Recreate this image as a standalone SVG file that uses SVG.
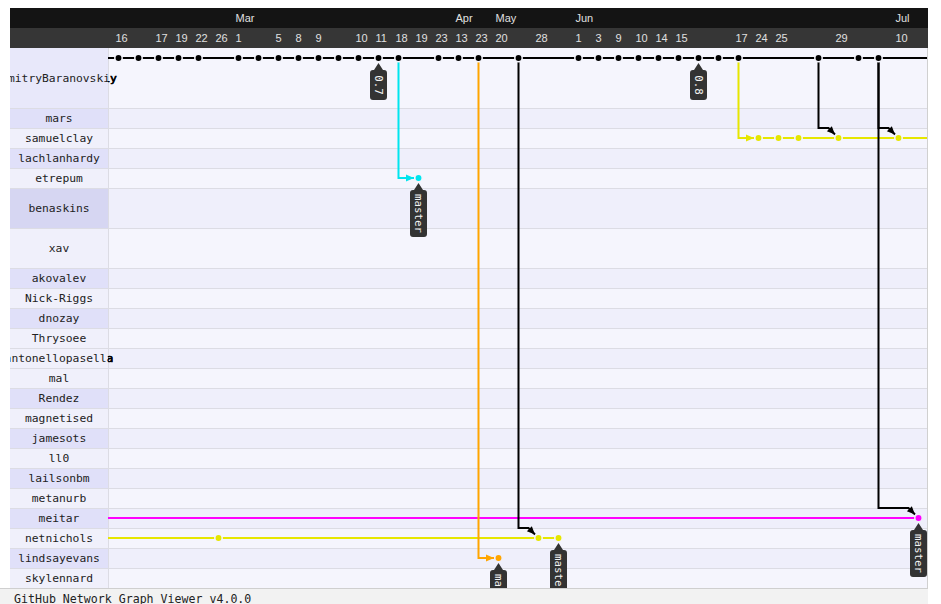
<svg xmlns="http://www.w3.org/2000/svg" width="941" height="604" viewBox="0 0 941 604">
<style>
.lbl{font-family:"DejaVu Sans Mono","Liberation Mono",monospace;font-size:11.3px;fill:#222;text-anchor:middle}
.hdr{font-family:"Liberation Sans","Noto Sans",sans-serif;font-size:11px;fill:#e0e0e0}
.tagt{font-family:"DejaVu Sans Mono","Liberation Mono",monospace;font-size:10.8px;fill:#f2f2f2;text-anchor:middle}
.bgL{fill:#f5f5fd}
.bgD{fill:#efeffb}
.cL{fill:#f0f0fb}
.cD{fill:#e0e0f9}
.sep{stroke:#dcdce4;stroke-width:1}
.ln{fill:none;stroke-width:2}
.tag{fill:#333}
</style>
<defs>
<clipPath id="lc"><rect x="10" y="0" width="918" height="604"/></clipPath>
<clipPath id="gc"><rect x="108" y="0" width="820" height="604"/></clipPath>
<clipPath id="ga"><rect x="108" y="48" width="819" height="540"/></clipPath>
<marker id="aK" markerUnits="userSpaceOnUse" markerWidth="10" markerHeight="10" viewBox="-9 -4 10 8" refX="0" refY="0" orient="auto"><path d="M-8,-3.5 L0,0 L-8,3.5 z" fill="#000"/></marker>
<marker id="aC" markerUnits="userSpaceOnUse" markerWidth="10" markerHeight="10" viewBox="-9 -4 10 8" refX="0" refY="0" orient="auto"><path d="M-8,-3.5 L0,0 L-8,3.5 z" fill="#00e5ee"/></marker>
<marker id="aY" markerUnits="userSpaceOnUse" markerWidth="10" markerHeight="10" viewBox="-9 -4 10 8" refX="0" refY="0" orient="auto"><path d="M-8,-3.5 L0,0 L-8,3.5 z" fill="#e6e600"/></marker>
<marker id="aO" markerUnits="userSpaceOnUse" markerWidth="10" markerHeight="10" viewBox="-9 -4 10 8" refX="0" refY="0" orient="auto"><path d="M-8,-3.5 L0,0 L-8,3.5 z" fill="#ffa500"/></marker>
</defs>
<rect width="941" height="604" fill="#fff"/>

<g id="header">
<rect x="10" y="8" width="918" height="20" fill="#141414"/>
<rect x="10" y="28" width="918" height="20" fill="#363636"/>
<g class="hdr">
<text x="235.5" y="22">Mar</text><text x="455.5" y="22">Apr</text><text x="495.5" y="22">May</text><text x="575.5" y="22">Jun</text><text x="895.5" y="22">Jul</text>
<text x="115.5" y="42">16</text><text x="155.5" y="42">17</text><text x="175.5" y="42">19</text><text x="195.5" y="42">22</text><text x="215.5" y="42">26</text><text x="235.5" y="42">1</text><text x="275.5" y="42">5</text><text x="295.5" y="42">8</text><text x="315.5" y="42">9</text><text x="355.5" y="42">10</text><text x="375.5" y="42">11</text><text x="395.5" y="42">18</text><text x="415.5" y="42">19</text><text x="435.5" y="42">23</text><text x="455.5" y="42">13</text><text x="475.5" y="42">23</text><text x="495.5" y="42">20</text><text x="535.5" y="42">28</text><text x="575.5" y="42">1</text><text x="595.5" y="42">3</text><text x="615.5" y="42">9</text><text x="635.5" y="42">10</text><text x="655.5" y="42">14</text><text x="675.5" y="42">15</text><text x="735.5" y="42">17</text><text x="755.5" y="42">24</text><text x="775.5" y="42">25</text><text x="835.5" y="42">29</text><text x="895.5" y="42">10</text>
</g>
</g>

<g id="rows">
<g id="row-DmitryBaranovskiy"><rect class="bgL" x="108" y="48" width="819" height="60"/><rect x="10" y="48" width="98" height="60" fill="#e8e8fa"/></g>
<g id="row-mars"><rect class="bgD" x="108" y="108" width="819" height="20"/><rect class="cD" x="10" y="108" width="98" height="20"/></g>
<g id="row-samuelclay"><rect class="bgL" x="108" y="128" width="819" height="20"/><rect class="cL" x="10" y="128" width="98" height="20"/></g>
<g id="row-lachlanhardy"><rect class="bgD" x="108" y="148" width="819" height="20"/><rect class="cD" x="10" y="148" width="98" height="20"/></g>
<g id="row-etrepum"><rect class="bgL" x="108" y="168" width="819" height="20"/><rect class="cL" x="10" y="168" width="98" height="20"/></g>
<g id="row-benaskins"><rect class="bgD" x="108" y="188" width="819" height="40"/><rect x="10" y="188" width="98" height="40" fill="#d6d6f2"/></g>
<g id="row-xav"><rect class="bgL" x="108" y="228" width="819" height="40"/><rect class="cL" x="10" y="228" width="98" height="40"/></g>
<g id="row-akovalev"><rect class="bgD" x="108" y="268" width="819" height="20"/><rect class="cD" x="10" y="268" width="98" height="20"/></g>
<g id="row-Nick-Riggs"><rect class="bgL" x="108" y="288" width="819" height="20"/><rect class="cL" x="10" y="288" width="98" height="20"/></g>
<g id="row-dnozay"><rect class="bgD" x="108" y="308" width="819" height="20"/><rect class="cD" x="10" y="308" width="98" height="20"/></g>
<g id="row-Thrysoee"><rect class="bgL" x="108" y="328" width="819" height="20"/><rect class="cL" x="10" y="328" width="98" height="20"/></g>
<g id="row-antonellopasella"><rect class="bgD" x="108" y="348" width="819" height="20"/><rect class="cL" x="10" y="348" width="98" height="20"/></g>
<g id="row-mal"><rect class="bgL" x="108" y="368" width="819" height="20"/><rect class="cL" x="10" y="368" width="98" height="20"/></g>
<g id="row-Rendez"><rect class="bgD" x="108" y="388" width="819" height="20"/><rect class="cD" x="10" y="388" width="98" height="20"/></g>
<g id="row-magnetised"><rect class="bgL" x="108" y="408" width="819" height="20"/><rect class="cL" x="10" y="408" width="98" height="20"/></g>
<g id="row-jamesots"><rect class="bgD" x="108" y="428" width="819" height="20"/><rect class="cD" x="10" y="428" width="98" height="20"/></g>
<g id="row-ll0"><rect class="bgL" x="108" y="448" width="819" height="20"/><rect class="cL" x="10" y="448" width="98" height="20"/></g>
<g id="row-lailsonbm"><rect class="bgD" x="108" y="468" width="819" height="20"/><rect class="cD" x="10" y="468" width="98" height="20"/></g>
<g id="row-metanurb"><rect class="bgL" x="108" y="488" width="819" height="20"/><rect class="cL" x="10" y="488" width="98" height="20"/></g>
<g id="row-meitar"><rect class="bgD" x="108" y="508" width="819" height="20"/><rect class="cD" x="10" y="508" width="98" height="20"/></g>
<g id="row-netnichols"><rect class="bgL" x="108" y="528" width="819" height="20"/><rect class="cL" x="10" y="528" width="98" height="20"/></g>
<g id="row-lindsayevans"><rect class="bgD" x="108" y="548" width="819" height="20"/><rect class="cD" x="10" y="548" width="98" height="20"/></g>
<g id="row-skylennard"><rect class="bgL" x="108" y="568" width="819" height="20"/><rect class="cL" x="10" y="568" width="98" height="20"/></g>
<g class="sep">
<line x1="10" y1="108.5" x2="927" y2="108.5"/><line x1="10" y1="128.5" x2="927" y2="128.5"/><line x1="10" y1="148.5" x2="927" y2="148.5"/><line x1="10" y1="168.5" x2="927" y2="168.5"/><line x1="10" y1="188.5" x2="927" y2="188.5"/><line x1="10" y1="228.5" x2="927" y2="228.5"/><line x1="10" y1="268.5" x2="927" y2="268.5"/><line x1="10" y1="288.5" x2="927" y2="288.5"/><line x1="10" y1="308.5" x2="927" y2="308.5"/><line x1="10" y1="328.5" x2="927" y2="328.5"/><line x1="10" y1="348.5" x2="927" y2="348.5"/><line x1="10" y1="368.5" x2="927" y2="368.5"/><line x1="10" y1="388.5" x2="927" y2="388.5"/><line x1="10" y1="408.5" x2="927" y2="408.5"/><line x1="10" y1="428.5" x2="927" y2="428.5"/><line x1="10" y1="448.5" x2="927" y2="448.5"/><line x1="10" y1="468.5" x2="927" y2="468.5"/><line x1="10" y1="488.5" x2="927" y2="488.5"/><line x1="10" y1="508.5" x2="927" y2="508.5"/><line x1="10" y1="528.5" x2="927" y2="528.5"/><line x1="10" y1="548.5" x2="927" y2="548.5"/><line x1="10" y1="568.5" x2="927" y2="568.5"/>
<line x1="108.5" y1="48" x2="108.5" y2="588"/><line x1="927.5" y1="48" x2="927.5" y2="588" stroke="#d0d0d0"/>
</g>
</g>

<g id="labels" clip-path="url(#lc)">
<text class="lbl" x="59" y="82">DmitryBaranovskiy</text>
<text class="lbl" x="59" y="121.5">mars</text>
<text class="lbl" x="59" y="141.5">samuelclay</text>
<text class="lbl" x="59" y="161.5">lachlanhardy</text>
<text class="lbl" x="59" y="181.5">etrepum</text>
<text class="lbl" x="59" y="211.5">benaskins</text>
<text class="lbl" x="59" y="251.5">xav</text>
<text class="lbl" x="59" y="281.5">akovalev</text>
<text class="lbl" x="59" y="301.5">Nick-Riggs</text>
<text class="lbl" x="59" y="321.5">dnozay</text>
<text class="lbl" x="59" y="341.5">Thrysoee</text>
<text class="lbl" x="59" y="361.5">antonellopasella</text>
<text class="lbl" x="59" y="381.5">mal</text>
<text class="lbl" x="59" y="401.5">Rendez</text>
<text class="lbl" x="59" y="421.5">magnetised</text>
<text class="lbl" x="59" y="441.5">jamesots</text>
<text class="lbl" x="59" y="461.5">ll0</text>
<text class="lbl" x="59" y="481.5">lailsonbm</text>
<text class="lbl" x="59" y="501.5">metanurb</text>
<text class="lbl" x="59" y="521.5">meitar</text>
<text class="lbl" x="59" y="541.5">netnichols</text>
<text class="lbl" x="59" y="561.5">lindsayevans</text>
<text class="lbl" x="59" y="581.5">skylennard</text>
</g>
<g id="label-overflow" clip-path="url(#gc)">
<text class="lbl" x="59" y="82" style="fill:#000;stroke:#000;stroke-width:0.6">DmitryBaranovskiy</text>
<text class="lbl" x="59" y="361.5" style="fill:#000;stroke:#000;stroke-width:0.6">antonellopasella</text>
</g>

<g id="graph" clip-path="url(#ga)">
<g id="connectors">
<path class="ln" stroke="#000" d="M108,58 H927"/>
<path class="ln" stroke="#e6e600" d="M758.5,138 H927"/>
<path class="ln" stroke="#e6e600" d="M108,538 H558.5"/>
<path class="ln" stroke="#ff00ff" d="M108,518 H918.5"/>
<path class="ln" stroke="#00e5ee" d="M398.5,58 V178 H414" marker-end="url(#aC)"/>
<path class="ln" stroke="#ffa500" d="M478.5,58 V558 H494" marker-end="url(#aO)"/>
<path class="ln" stroke="#e6e600" d="M738.5,58 V138 H754" marker-end="url(#aY)"/>
<path class="ln" stroke="#000" d="M518.5,58 V528 H528.5 L535,534.5" marker-end="url(#aK)"/>
<path class="ln" stroke="#000" d="M818.5,58 V128 H828.5 L835,134.5" marker-end="url(#aK)"/>
<path class="ln" stroke="#000" d="M878.5,58 V128 H888.5 L895,134.5" marker-end="url(#aK)"/>
<path class="ln" stroke="#000" d="M878.5,58 V508 H908.5 L915,514.5" marker-end="url(#aK)"/>
</g>
<g id="commits" stroke-width="1.5">
<g id="commits-DmitryBaranovskiy" fill="#000" stroke="#f5f5fd">
<circle cx="118.5" cy="58" r="3.7"/><circle cx="138.5" cy="58" r="3.7"/><circle cx="158.5" cy="58" r="3.7"/><circle cx="178.5" cy="58" r="3.7"/><circle cx="198.5" cy="58" r="3.7"/><circle cx="238.5" cy="58" r="3.7"/><circle cx="258.5" cy="58" r="3.7"/><circle cx="278.5" cy="58" r="3.7"/><circle cx="298.5" cy="58" r="3.7"/><circle cx="318.5" cy="58" r="3.7"/><circle cx="338.5" cy="58" r="3.7"/><circle cx="358.5" cy="58" r="3.7"/><circle cx="378.5" cy="58" r="3.7"/><circle cx="398.5" cy="58" r="3.7"/><circle cx="438.5" cy="58" r="3.7"/><circle cx="458.5" cy="58" r="3.7"/><circle cx="478.5" cy="58" r="3.7"/><circle cx="518.5" cy="58" r="3.7"/><circle cx="578.5" cy="58" r="3.7"/><circle cx="598.5" cy="58" r="3.7"/><circle cx="618.5" cy="58" r="3.7"/><circle cx="638.5" cy="58" r="3.7"/><circle cx="658.5" cy="58" r="3.7"/><circle cx="678.5" cy="58" r="3.7"/><circle cx="698.5" cy="58" r="3.7"/><circle cx="718.5" cy="58" r="3.7"/><circle cx="738.5" cy="58" r="3.7"/><circle cx="818.5" cy="58" r="3.7"/><circle cx="858.5" cy="58" r="3.7"/><circle cx="878.5" cy="58" r="3.7"/>
</g>
<g id="commits-samuelclay" fill="#e6e600" stroke="#f5f5fd">
<circle cx="758.5" cy="138" r="3.7"/><circle cx="778.5" cy="138" r="3.7"/><circle cx="798.5" cy="138" r="3.7"/><circle cx="838.5" cy="138" r="3.7"/><circle cx="898.5" cy="138" r="3.7"/>
</g>
<g id="commits-etrepum" fill="#00e5ee" stroke="#f5f5fd"><circle cx="418.5" cy="178" r="3.7"/></g>
<g id="commits-meitar" fill="#ff00ff" stroke="#efeffb"><circle cx="918.5" cy="518" r="3.7"/></g>
<g id="commits-netnichols" fill="#e6e600" stroke="#f5f5fd">
<circle cx="218.5" cy="538" r="3.7"/><circle cx="538.5" cy="538" r="3.7"/><circle cx="558.5" cy="538" r="3.7"/>
</g>
<g id="commits-lindsayevans" fill="#ffa500" stroke="#efeffb"><circle cx="498.5" cy="558" r="3.7"/></g>
</g>
<g id="tags">
<g id="tag-0.7" transform="translate(378.5,63)"><path class="tag" d="M0,0 L4.5,7 L5.5,7 Q8.5,7 8.5,10 V34 Q8.5,37 5.5,37 H-5.5 Q-8.5,37 -8.5,34 V10 Q-8.5,7 -5.5,7 H-4.5 Z"/><text class="tagt" transform="translate(0,22) rotate(90)" dy="0.35em">0.7</text></g>
<g id="tag-0.8" transform="translate(698.5,63)"><path class="tag" d="M0,0 L4.5,7 L5.5,7 Q8.5,7 8.5,10 V34 Q8.5,37 5.5,37 H-5.5 Q-8.5,37 -8.5,34 V10 Q-8.5,7 -5.5,7 H-4.5 Z"/><text class="tagt" transform="translate(0,22) rotate(90)" dy="0.35em">0.8</text></g>
<g id="tag-etrepum-master" transform="translate(418.5,183)"><path class="tag" d="M0,0 L4.5,7 L5.5,7 Q8.5,7 8.5,10 V51 Q8.5,54 5.5,54 H-5.5 Q-8.5,54 -8.5,51 V10 Q-8.5,7 -5.5,7 H-4.5 Z"/><text class="tagt" transform="translate(0,30.5) rotate(90)" dy="0.35em">master</text></g>
<g id="tag-meitar-master" transform="translate(918.5,523)"><path class="tag" d="M0,0 L4.5,7 L5.5,7 Q8.5,7 8.5,10 V51 Q8.5,54 5.5,54 H-5.5 Q-8.5,54 -8.5,51 V10 Q-8.5,7 -5.5,7 H-4.5 Z"/><text class="tagt" transform="translate(0,30.5) rotate(90)" dy="0.35em">master</text></g>
<g id="tag-netnichols-master" transform="translate(558.5,543)"><path class="tag" d="M0,0 L4.5,7 L5.5,7 Q8.5,7 8.5,10 V51 Q8.5,54 5.5,54 H-5.5 Q-8.5,54 -8.5,51 V10 Q-8.5,7 -5.5,7 H-4.5 Z"/><text class="tagt" transform="translate(0,30.5) rotate(90)" dy="0.35em">master</text></g>
<g id="tag-lindsayevans-master" transform="translate(498.5,563)"><path class="tag" d="M0,0 L4.5,7 L5.5,7 Q8.5,7 8.5,10 V51 Q8.5,54 5.5,54 H-5.5 Q-8.5,54 -8.5,51 V10 Q-8.5,7 -5.5,7 H-4.5 Z"/><text class="tagt" transform="translate(0,30.5) rotate(90)" dy="0.35em">master</text></g>
</g>
</g>

<g id="footer">
<rect x="0" y="588" width="928" height="16" fill="#f2f2f2"/>
<line x1="0" y1="588.5" x2="928" y2="588.5" stroke="#cfcfcf"/>
<text x="14" y="602.5" style="font-family:'DejaVu Sans Mono','Liberation Mono',monospace;font-size:11.6px;fill:#222">GitHub Network Graph Viewer v4.0.0</text>
</g>
</svg>
